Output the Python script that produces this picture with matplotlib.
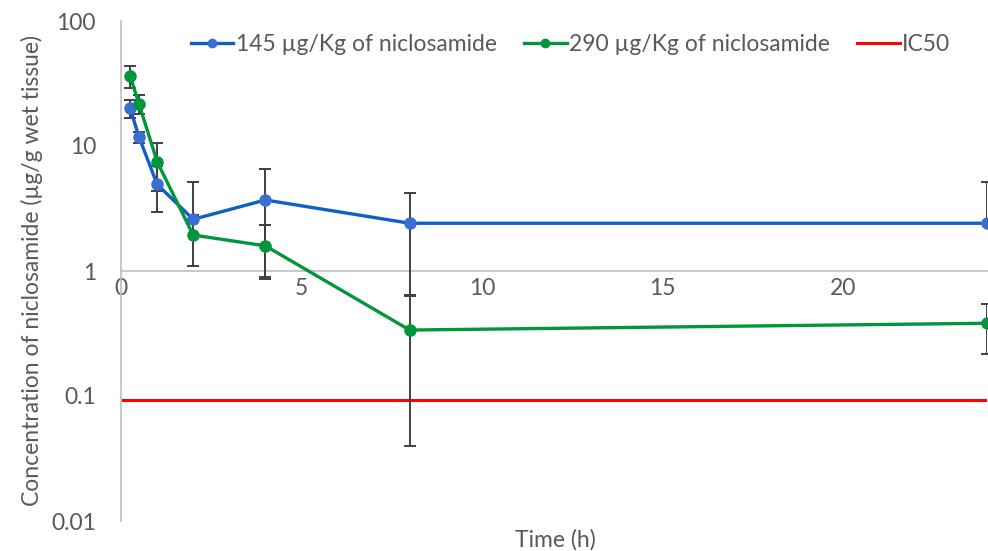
import matplotlib
matplotlib.use('Agg')
import matplotlib.pyplot as plt
import numpy as np

# ── Data ─────────────────────────────────────────────────────────────────────
time_h = [0.25, 0.5, 1, 2, 4, 8, 24]
conc_145 = [20.1, 11.8, 4.94, 2.59, 3.70, 2.41, 2.41]
sd_145   = [3.3,  1.2,  2.0,  2.6,  2.81, 1.77, 2.77]
conc_290 = [36.5, 21.7, 7.5,  1.94, 1.59, 0.337, 0.382]
sd_290   = [7.2,  3.8,  3.1,  0.85, 0.73, 0.297, 0.165]
ic50 = 0.093
series_labels = ['145 µg/Kg of niclosamide', '290 µg/Kg of niclosamide', 'IC50']

BLUE_LINE = '#0f5fc6'
BLUE_MARK = '#3a6fd0'
GREEN = '#00963c'
RED = '#ff0000'
GRAY = '#bfbfbf'
TXT = '#595959'
FS = 16.5

plt.rcParams['font.family'] = ['Lato', 'DejaVu Sans']

fig = plt.figure(figsize=(9.88, 5.51), dpi=100)
ax = fig.add_axes([121/988, 30/551, 866/988, 500/551])


def yerr_for(vals, sds):
    vals = np.array(vals)
    sds = np.array(sds)
    # lower bars that would drop below zero are left out on the log axis
    lower = np.where(sds < vals, sds, 0)
    return [lower, sds]


handles = []
for vals, sds, lc, mc in [(conc_145, sd_145, BLUE_LINE, BLUE_MARK),
                          (conc_290, sd_290, GREEN, GREEN)]:
    eb = ax.errorbar(time_h, vals, yerr=yerr_for(vals, sds), color=lc, lw=2.4,
                     marker='o', ms=8, mfc=mc, mec=mc,
                     ecolor='#404040', elinewidth=1.4, capsize=4, capthick=1.4,
                     zorder=3)
    handles.append(eb[0])

ic_line, = ax.plot([0, 24], [ic50, ic50], color=RED, lw=2.2, zorder=2)
handles.append(ic_line)

ax.set_yscale('log')
ax.set_ylim(0.01, 100)
ax.set_xlim(0, 24)
ax.set_yticks([0.01, 0.1, 1, 10, 100])
ax.set_yticklabels(['0.01', '0.1', '1', '10', '100'])
ax.minorticks_off()
ax.set_xticks([0, 5, 10, 15, 20])
ax.set_xticklabels(['0', '5', '10', '15', '20'])

# horizontal axis crosses the value axis at 1
for s in ['top', 'right']:
    ax.spines[s].set_visible(False)
ax.spines['bottom'].set_position(('data', 1))
ax.spines['bottom'].set_color(GRAY)
ax.spines['left'].set_color(GRAY)
ax.spines['bottom'].set_linewidth(1.2)
ax.spines['left'].set_linewidth(1.2)
ax.tick_params(axis='both', length=0, labelsize=FS, colors=TXT)
ax.tick_params(axis='y', pad=18)
ax.tick_params(axis='x', pad=5)

ax.set_ylabel('Concentration of niclosamide (µg/g wet tissue)', fontsize=FS,
              color=TXT, labelpad=6)
fig.text(555/988, 1 - 540/551, 'Time (h)', fontsize=FS, color=TXT,
         ha='center', va='center')

ax.legend(handles, series_labels, ncol=3, frameon=False,
          fontsize=FS, loc='center', bbox_to_anchor=(0.519, 0.952),
          handlelength=1.85, handletextpad=0.1, columnspacing=1.2,
          markerscale=0.75, labelcolor=TXT)

fig.savefig('out.png', dpi=100, facecolor='white')
